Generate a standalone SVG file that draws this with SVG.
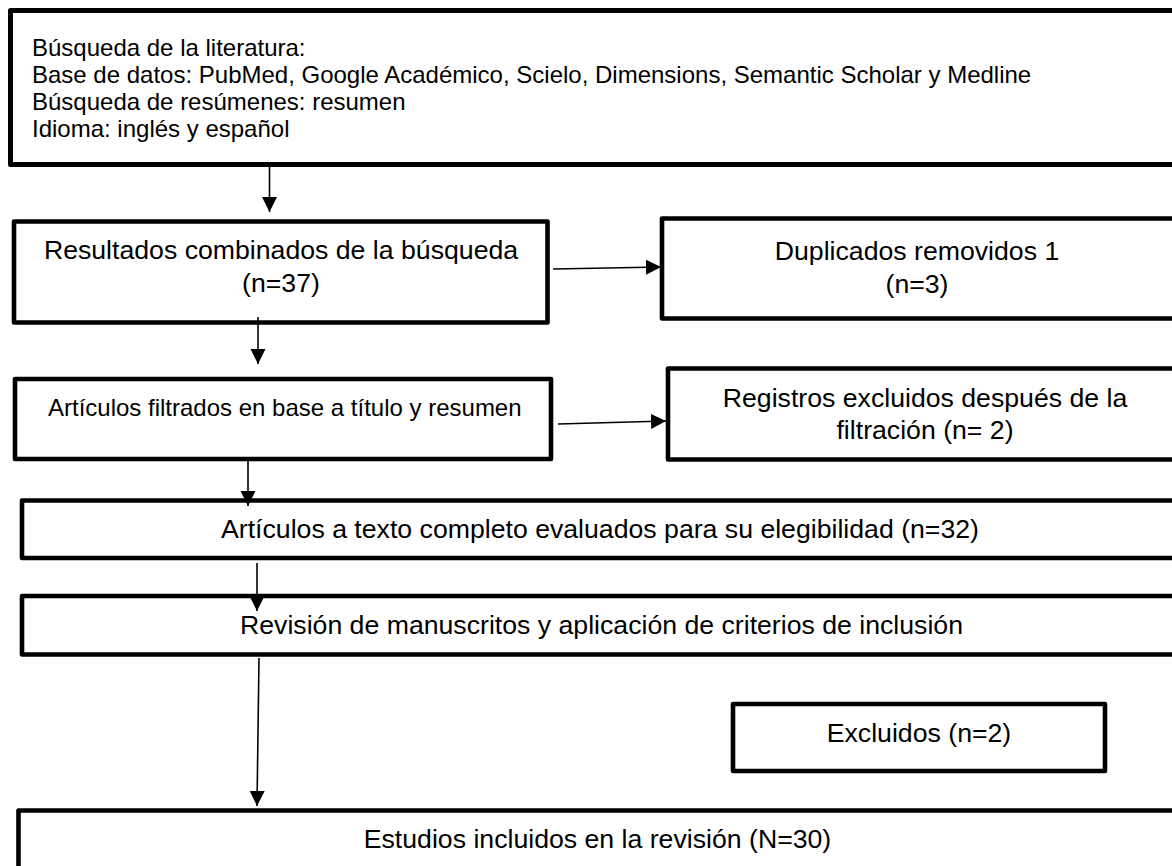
<svg xmlns="http://www.w3.org/2000/svg" width="1172" height="866" viewBox="0 0 1172 866">
  <defs>
    <marker id="arrow" markerUnits="userSpaceOnUse" markerWidth="16" markerHeight="16" viewBox="0 0 16 16" refX="15" refY="8" orient="auto">
      <path d="M0,0.5 L15,8 L0,15.5 z" fill="#000"/>
    </marker>
    <style>
      .box { fill: #fff; stroke: #000; stroke-width: 4.6; stroke-linejoin: round; }
      .top { stroke-width: 5; }
      .t { font-family: "Liberation Sans", Arial, sans-serif; fill: #000; }
      .s24 { font-size: 24px; }
      .s26 { font-size: 26.67px; }
      .c { text-anchor: middle; }
      .conn line { stroke: #000; stroke-width: 1.6; marker-end: url(#arrow); }
    </style>
  </defs>
  <rect width="1172" height="866" fill="#fff"/>

  <g id="busqueda">
    <rect class="box top" x="10.5" y="10.5" width="1180" height="154"/>
    <text class="t s24" x="32" y="55.5">Búsqueda de la literatura:</text>
    <text class="t s24" x="32" y="82.5">Base de datos: PubMed, Google Académico, Scielo, Dimensions, Semantic Scholar y Medline</text>
    <text class="t s24" x="32" y="109.5">Búsqueda de resúmenes: resumen</text>
    <text class="t s24" x="32" y="136.5">Idioma: inglés y español</text>
  </g>

  <g id="resultados">
    <rect class="box" x="14" y="221.5" width="533.5" height="101"/>
    <text class="t s26 c" x="281" y="259">Resultados combinados de la búsqueda</text>
    <text class="t s26 c" x="281" y="292">(n=37)</text>
  </g>

  <g id="duplicados">
    <rect class="box" x="662" y="218.5" width="520" height="100"/>
    <text class="t s26 c" x="917" y="260">Duplicados removidos 1</text>
    <text class="t s26 c" x="917" y="293">(n=3)</text>
  </g>

  <g id="filtrados">
    <rect class="box" x="15" y="379" width="536" height="80"/>
    <text class="t s24" x="48" y="416">Artículos filtrados en base a título y resumen</text>
  </g>

  <g id="registros">
    <rect class="box" x="668" y="368.5" width="520" height="91"/>
    <text class="t s26 c" x="925" y="407">Registros excluidos después de la</text>
    <text class="t s26 c" x="925" y="439">filtración (n= 2)</text>
  </g>

  <g id="texto-completo">
    <rect class="box" x="22" y="500.5" width="1170" height="57.5"/>
    <text class="t s26 c" x="600" y="538">Artículos a texto completo evaluados para su elegibilidad (n=32)</text>
  </g>

  <g id="revision">
    <rect class="box" x="22" y="596" width="1170" height="58.5"/>
    <text class="t s26 c" x="601.5" y="634">Revisión de manuscritos y aplicación de criterios de inclusión</text>
  </g>

  <g id="excluidos">
    <rect class="box" x="733" y="704" width="372" height="67"/>
    <text class="t s26 c" x="919" y="741.5">Excluidos (n=2)</text>
  </g>

  <g id="estudios">
    <rect class="box" x="18.5" y="810.5" width="1170" height="80"/>
    <text class="t s26 c" x="597.5" y="848">Estudios incluidos en la revisión (N=30)</text>
  </g>

  <g id="connectors" class="conn">
    <line x1="269.5" y1="166" x2="269.5" y2="212"/>
    <line x1="553" y1="269" x2="661" y2="267"/>
    <line x1="258" y1="317" x2="258" y2="364"/>
    <line x1="558" y1="424" x2="666" y2="421"/>
    <line x1="248" y1="461" x2="248" y2="506"/>
    <line x1="257" y1="563" x2="257" y2="611"/>
    <line x1="259" y1="658" x2="257" y2="806"/>
  </g>
</svg>
